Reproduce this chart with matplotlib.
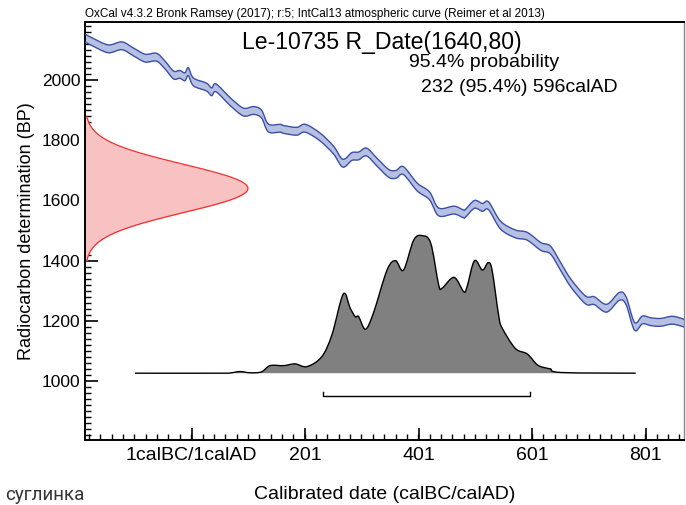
import numpy as np
import matplotlib
matplotlib.use("Agg")
import matplotlib.pyplot as plt
from matplotlib.path import Path
from matplotlib.patches import PathPatch
from matplotlib.ticker import MultipleLocator, FixedLocator

plt.rcParams["font.family"] = ["Liberation Sans", "DejaVu Sans"]

# IntCal13 curve: calendar year (AD, negative = BC), centre BP and 1-sigma
curve_year = [-187, -173, -146, -122, -102, -81, -61, -46, -31, -20, -11, -5,
              4, 27, 36, 44, 69, 92, 110, 124, 136, 157, 163, 186, 201, 227,
              251, 267, 283, 295, 309, 327, 348, 361, 374, 398, 420, 436, 463,
              479, 483, 499, 513, 524, 545, 571, 592, 616, 633, 651, 669, 695,
              710, 732, 754, 766, 781, 795, 810, 827, 848, 869]
curve_bp = [2140, 2126, 2104, 2114, 2094, 2073, 2076, 2050, 2017, 2019, 2011,
            2028, 1994, 1977, 1961, 1974, 1928, 1894, 1899, 1887, 1841, 1840,
            1836, 1830, 1840, 1811, 1767, 1724, 1746, 1748, 1761, 1728, 1690,
            1687, 1699, 1645, 1615, 1562, 1568, 1556, 1557, 1587, 1577, 1582,
            1518, 1489, 1481, 1447, 1435, 1380, 1325, 1269, 1267, 1242, 1281,
            1267, 1182, 1203, 1197, 1195, 1202, 1192]
curve_err = 13

# measured date
r_date = 1640
r_err = 80

# calibrated probability (relative) against calendar year
post_year = [-99, 50, 69, 86, 104, 124, 139, 163, 183, 204, 230, 248, 268,
             280, 289, 295, 307, 321, 345, 360, 374, 392, 407, 422, 436, 442,
             463, 480, 486, 499, 513, 523, 530, 542, 548, 571, 592, 610, 627,
             633, 652, 783]
post_prob = [0, 0, 0.002, 0.012, 0.003, 0.01, 0.055, 0.055, 0.068, 0.048,
             0.12, 0.28, 0.576, 0.474, 0.411, 0.411, 0.32, 0.437, 0.75, 0.818,
             0.75, 0.968, 1.0, 0.945, 0.642, 0.618, 0.697, 0.593, 0.629, 0.818,
             0.75, 0.803, 0.75, 0.411, 0.327, 0.18, 0.14, 0.06, 0.036, 0.031,
             0.005, 0]

# 95.4% range
range_from = 232
range_to = 596

xticks = [1, 201, 401, 601, 801]
xlabels = ["1calBC/1calAD", "201", "401", "601", "801"]


def smooth_path(xs, ys):
    """Catmull-Rom through the points, as cubic bezier path pieces."""
    p = np.column_stack([xs, ys]).astype(float)
    verts = [p[0]]
    codes = [Path.MOVETO]
    n = len(p)
    for i in range(n - 1):
        p0 = p[max(i - 1, 0)]
        p1 = p[i]
        p2 = p[i + 1]
        p3 = p[min(i + 2, n - 1)]
        c1 = p1 + (p2 - p0) / 6.0
        c2 = p2 - (p3 - p1) / 6.0
        verts += [c1, c2, p2]
        codes += [Path.CURVE4] * 3
    return verts, codes


def band_path(xs, lo, hi):
    v1, c1 = smooth_path(xs, hi)
    v2, c2 = smooth_path(xs[::-1], lo[::-1])
    c2[0] = Path.LINETO
    verts = v1 + v2 + [v1[0]]
    codes = c1 + c2 + [Path.CLOSEPOLY]
    return Path(verts, codes)


fig = plt.figure(figsize=(6.86, 5.05), dpi=100)
ax = fig.add_axes([0.1239, 0.1287, 0.997 - 0.1239, 0.9564 - 0.1287])
ax.set_xlim(-187, 868)
ax.set_ylim(804, 2193)

# calibration curve band
cy = np.array(curve_year)
cb = np.array(curve_bp)
ax.add_patch(PathPatch(band_path(cy, cb - curve_err, cb + curve_err),
                       facecolor="#b6c0e2", lw=0, zorder=2))
for edge in (cb + curve_err, cb - curve_err):
    v, c = smooth_path(cy, edge)
    ax.add_patch(PathPatch(Path(v, c), facecolor="none", edgecolor="#3b4fa5",
                           lw=1.0, zorder=3))

# radiocarbon measurement on the y axis
bp = np.linspace(r_date - 3 * r_err, r_date + 3 * r_err, 300)
dens = np.exp(-0.5 * ((bp - r_date) / r_err) ** 2)
x0 = ax.get_xlim()[0]
ax.fill_betweenx(bp, x0, x0 + 287 * dens, color="#f8c2c2", lw=0, zorder=2)
ax.plot(x0 + 287 * dens, bp, color="#ee3030", lw=0.9, zorder=3)

# calibrated distribution
base = 1026
height = 457
py = np.array(post_year)
pp = np.array(post_prob)
top = base + height * pp
ax.add_patch(PathPatch(band_path(py, np.full(len(py), base), top),
                       facecolor="#808080", lw=0, zorder=4))
v, c = smooth_path(py, top)
ax.add_patch(PathPatch(Path(v, c), facecolor="none", edgecolor="black",
                       lw=1.0, zorder=5))

# range bar
bar_y = 950
ax.plot([range_from, range_from, range_to, range_to],
        [bar_y + 15, bar_y, bar_y, bar_y + 15], color="black", lw=1.0, zorder=5)

# spines and ticks
for side in ["left", "bottom", "top"]:
    ax.spines[side].set_linewidth(1.4)
    ax.spines[side].set_color("black")
ax.spines["right"].set_linewidth(1.0)
ax.spines["right"].set_color("#888888")

ax.xaxis.set_major_locator(FixedLocator(xticks))
ax.set_xticklabels(xlabels)
ax.xaxis.set_minor_locator(MultipleLocator(20))
ax.yaxis.set_major_locator(MultipleLocator(200))
ax.yaxis.set_minor_locator(MultipleLocator(20))
ax.tick_params(which="major", direction="in", length=9, width=1.2,
               top=False, right=False)
ax.tick_params(which="minor", direction="in", length=4.5, width=1.0,
               top=False, right=False)
ax.tick_params(axis="x", which="major", pad=5, labelsize=14)
ax.tick_params(axis="y", which="major", labelsize=12.5)

ax.set_xlabel("Calibrated date (calBC/calAD)", fontsize=14, labelpad=16)
ax.set_ylabel("Radiocarbon determination (BP)", fontsize=13, labelpad=5)

ax.text(297 / 600, (440 - 42) / 418, "Le-10735 R_Date(1640,80)",
        transform=ax.transAxes, ha="center", va="center", fontsize=16.6)
ax.text(399.5 / 600, (440 - 62) / 418, "95.4% probability",
        transform=ax.transAxes, ha="center", va="center", fontsize=14)
ax.text(435.5 / 600, (440 - 87) / 418, "232 (95.4%) 596calAD",
        transform=ax.transAxes, ha="center", va="center", fontsize=14)

fig.text(85 / 686, 1 - 14 / 505,
         "OxCal v4.3.2 Bronk Ramsey (2017); r:5; IntCal13 atmospheric curve (Reimer et al 2013)",
         ha="left", va="center", fontsize=8.5)
fig.text(5 / 686, 1 - 495 / 505, "суглинка", ha="left", va="center",
         fontsize=13.5, color="#333333", family=["Roboto", "DejaVu Sans"])

fig.savefig("out.png", dpi=100)
